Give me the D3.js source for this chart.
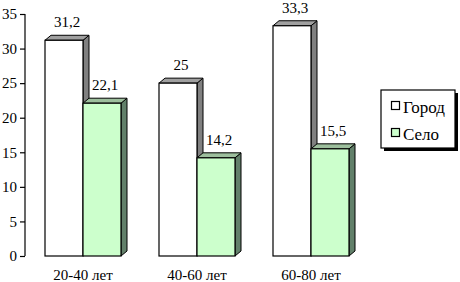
<!DOCTYPE html>
<html><head><meta charset="utf-8">
<script src="https://cdn.jsdelivr.net/npm/d3@7"></script>
<style>html,body{margin:0;padding:0;background:#fff;}svg{display:block;}</style>
</head><body>
<svg id="chart" width="460" height="282" font-family="Liberation Serif"></svg>
<script>
const categories = ["20-40 лет", "40-60 лет", "60-80 лет"];
const seriesNames = ["Город", "Село"];
const gorod = [31.2, 25, 33.3];
const selo = [22.1, 14.2, 15.5];
const valueLabels = [["31,2", "25", "33,3"], ["22,1", "14,2", "15,5"]];
const yTicks = [0, 5, 10, 15, 20, 25, 30, 35];

const series = [gorod, selo];
const fills = {front: ["#ffffff", "#ccffcc"], top: ["#a0a0a0", "#9dbf9d"], side: ["#808080", "#62806a"]};

const svg = d3.select("#chart");
const y = d3.scaleLinear().domain([0, 35]).range([256, 14]);
const x0 = d3.scaleBand().domain(categories).range([7, 387]).paddingInner(1/3).paddingOuter(1/3);
const x1 = d3.scaleBand().domain(seriesNames).range([0, x0.bandwidth()]);
const dx = 6, dy = 5;

const axis = d3.axisLeft(y).tickValues(yTicks).tickSize(5).tickPadding(3).tickFormat(d3.format("d"));
const ag = svg.append("g").attr("transform", "translate(25,0)").call(axis);
ag.attr("font-family", "Liberation Serif").attr("font-size", 15);
ag.select(".domain").attr("d", `M0,${y(35)}V${y(0)}`).attr("stroke", "#000").attr("stroke-width", 1.2);
ag.selectAll(".tick line").attr("stroke", "#000").attr("stroke-width", 1.2);
ag.selectAll(".tick text").attr("fill", "#000");

const g = svg.append("g");
seriesNames.forEach((s, si) => {
  categories.forEach((c, ci) => {
    const v = series[si][ci];
    const xl = x0(c) + x1(s), w = x1.bandwidth(), yt = y(v), yb = y(0);
    g.append("path")
      .attr("d", `M${xl + w},${yt}L${xl + w + dx},${yt - dy}L${xl + w + dx},${yb - dy}L${xl + w},${yb}Z`)
      .attr("fill", fills.side[si]).attr("stroke", "#000").attr("stroke-width", 1).attr("stroke-linejoin", "round");
    g.append("path")
      .attr("d", `M${xl},${yt}L${xl + dx},${yt - dy}L${xl + w + dx},${yt - dy}L${xl + w},${yt}Z`)
      .attr("fill", fills.top[si]).attr("stroke", "#000").attr("stroke-width", 1).attr("stroke-linejoin", "round");
    g.append("rect").attr("x", xl).attr("y", yt).attr("width", w).attr("height", yb - yt)
      .attr("fill", fills.front[si]).attr("stroke", "#000").attr("stroke-width", 1.2);
    svg.append("text").attr("x", xl + w / 2 + dx / 2).attr("y", yt - 13)
      .attr("text-anchor", "middle").attr("font-size", 15)
      .text(valueLabels[si][ci]);
  });
});

svg.selectAll(".cat").data(categories).enter().append("text")
  .attr("x", d => x0(d) + x0.bandwidth() / 2).attr("y", 280)
  .attr("text-anchor", "middle").attr("font-size", 15)
  .text(d => d);

const lg = svg.append("g");
lg.append("rect").attr("x", 384).attr("y", 93).attr("width", 74).attr("height", 58).attr("fill", "#000");
lg.append("rect").attr("x", 381).attr("y", 90).attr("width", 74).attr("height", 58).attr("fill", "#fff").attr("stroke", "#000").attr("stroke-width", 1.2);
seriesNames.forEach((s, i) => {
  const yy = 101 + i * 27;
  lg.append("rect").attr("x", 391.5).attr("y", yy + 0.5).attr("width", 8).attr("height", 8)
    .attr("fill", fills.front[i]).attr("stroke", "#000").attr("stroke-width", 1.2);
  lg.append("text").attr("x", 403).attr("y", yy + 12).attr("font-size", 17).text(s);
});
</script>
</body></html>
